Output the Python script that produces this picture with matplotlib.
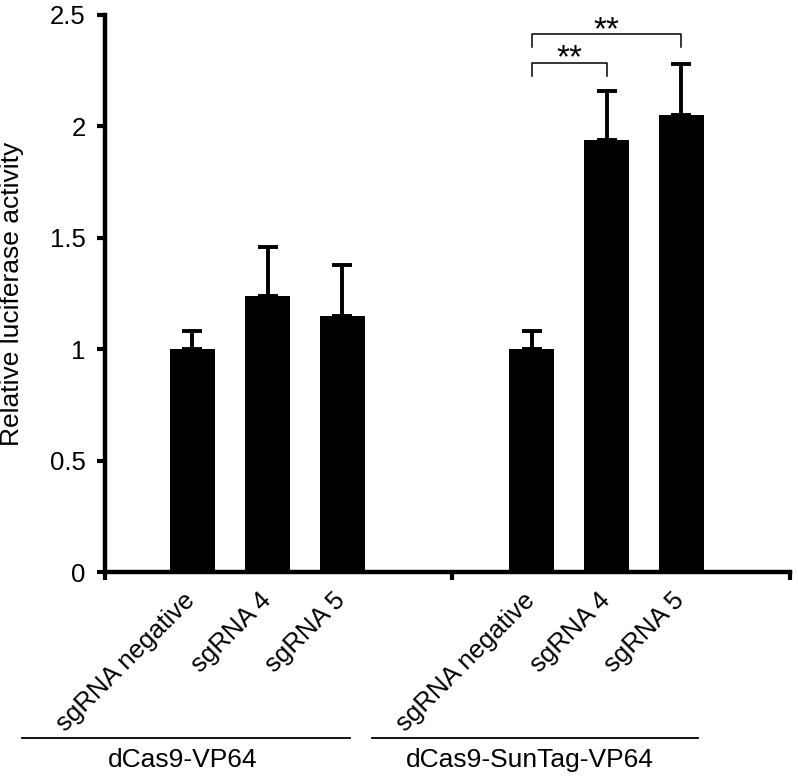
import matplotlib
matplotlib.use("Agg")
import matplotlib.pyplot as plt
from matplotlib.transforms import ScaledTranslation

plt.rcParams['font.family'] = ['Liberation Sans', 'DejaVu Sans']

# data
labels = ["sgRNA negative", "sgRNA 4", "sgRNA 5", "sgRNA negative", "sgRNA 4", "sgRNA 5"]
values = [1.0, 1.24, 1.15, 1.0, 1.94, 2.05]
errors = [0.08, 0.22, 0.23, 0.08, 0.22, 0.23]
groups = ["dCas9-VP64", "dCas9-SunTag-VP64"]
yticks = [0, 0.5, 1, 1.5, 2, 2.5]
yticklabels = ["0", "0.5", "1", "1.5", "2", "2.5"]

# layout (x positions in data units)
pos = [1.16, 2.17, 3.16, 5.69, 6.69, 7.68]
sep_ticks = [0, 4.63, 9.13]

fig = plt.figure(figsize=(7.98, 7.79), dpi=100)
ax = fig.add_axes([105/798, 1-572/779, (790-105)/798, (572-15)/779])

ax.bar(pos, values, width=0.6, color='black', zorder=2)
ax.errorbar(pos, values, yerr=[[0]*len(errors), errors], fmt='none',
            ecolor='black', elinewidth=2.8, capsize=7.5, capthick=2.8, zorder=1)

ax.set_xlim(0, 9.13)
ax.set_ylim(0, 2.5)
ax.spines['top'].set_visible(False)
ax.spines['right'].set_visible(False)
ax.spines['left'].set_linewidth(3.2)
ax.spines['bottom'].set_linewidth(3.2)

ax.set_yticks(yticks)
ax.set_yticklabels(yticklabels, fontsize=18.5)
ax.tick_params(axis='y', direction='out', length=6, width=3, pad=8)

ax.set_xticks(pos)
ax.set_xticklabels(labels, rotation=45, ha='right', rotation_mode='anchor', fontsize=18.5)
ax.tick_params(axis='x', which='major', length=0, pad=14)
ax.set_xticks(sep_ticks, minor=True)
ax.tick_params(axis='x', which='minor', direction='out', length=6, width=3)
shift = ScaledTranslation(-9/100, 3/100, fig.dpi_scale_trans)
for lab in ax.get_xticklabels():
    lab.set_transform(lab.get_transform() + shift)

ax.set_ylabel("Relative luciferase activity", fontsize=19)
ax.yaxis.set_label_coords(-0.118, 0.5)

# significance brackets
def bracket(x1, x2, y, drop, text, ty):
    ax.plot([x1, x1, x2, x2], [y - drop, y, y, y - drop], color='black', lw=1.1, clip_on=False)
    ax.text((x1 + x2) / 2, ty, text, ha='center', va='center', fontsize=24)

bracket(pos[3], pos[4], 2.285, 0.06, "**", 2.305)
bracket(pos[3], pos[5], 2.415, 0.06, "**", 2.43)

# group lines and labels
tr = ax.get_xaxis_transform()
ax.plot([-1.11, 3.27], [-0.298, -0.298], color='black', lw=1.3, transform=tr, clip_on=False)
ax.plot([3.56, 7.91], [-0.298, -0.298], color='black', lw=1.3, transform=tr, clip_on=False)
ax.text(1.04, -0.338, groups[0], transform=tr, ha='center', va='center', fontsize=19)
ax.text(5.66, -0.338, groups[1], transform=tr, ha='center', va='center', fontsize=19)

fig.savefig("out.png", dpi=100)
